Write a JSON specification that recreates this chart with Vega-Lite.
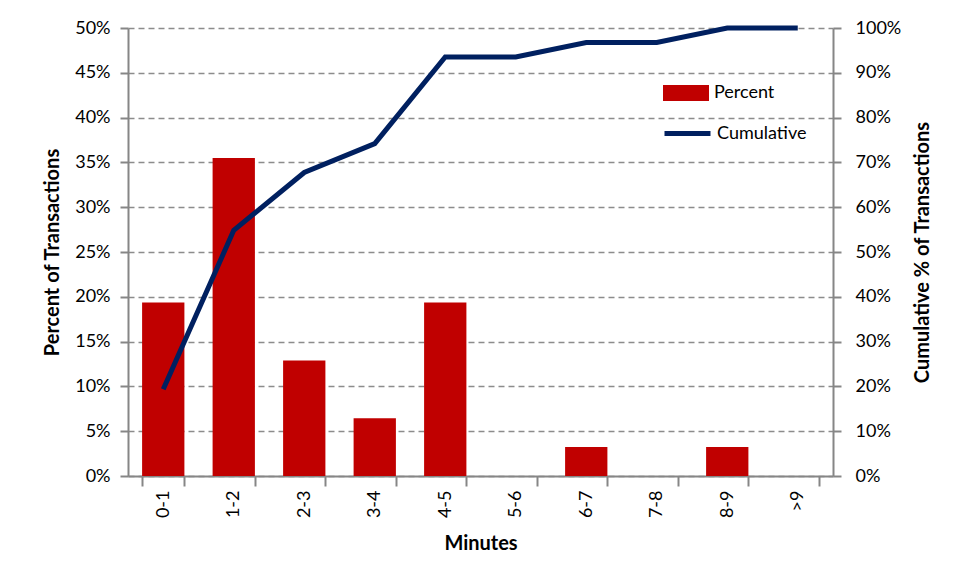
{
  "$schema": "https://vega.github.io/schema/vega-lite/v6.json",
  "width": 705,
  "height": 448,
  "autosize": "none",
  "padding": {"left": 128, "top": 28, "right": 121, "bottom": 103},
  "background": "white",
  "config": {
    "font": "Lato",
    "view": {"stroke": null},
    "axis": {
      "labelFont": "Lato", "titleFont": "Lato",
      "labelFontSize": 18, "titleFontSize": 20, "titleFontWeight": "bold",
      "labelColor": "#000", "titleColor": "#000", "labelOverlap": false,
      "domainColor": "#868686", "tickColor": "#868686", "domainWidth": 2, "tickWidth": 2
    }
  },
  "data": {"values": [
    {"bin": "0-1", "pct": 0.1935, "cum": 0.1935},
    {"bin": "1-2", "pct": 0.3548, "cum": 0.5484},
    {"bin": "2-3", "pct": 0.1290, "cum": 0.6774},
    {"bin": "3-4", "pct": 0.0645, "cum": 0.7419},
    {"bin": "4-5", "pct": 0.1935, "cum": 0.9355},
    {"bin": "5-6", "pct": 0.0, "cum": 0.9355},
    {"bin": "6-7", "pct": 0.0323, "cum": 0.9677},
    {"bin": "7-8", "pct": 0.0, "cum": 0.9677},
    {"bin": "8-9", "pct": 0.0323, "cum": 1.0},
    {"bin": ">9", "pct": 0.0, "cum": 1.0}
  ]},
  "encoding": {
    "x": {
      "field": "bin", "type": "nominal", "sort": null,
      "scale": {"paddingInner": 0.4, "paddingOuter": 0.2},
      "axis": {"title": "Minutes", "labelAngle": -90, "labelAlign": "right", "labelBaseline": "middle", "labelPadding": 4, "tickBand": "extent", "tickSize": 10, "titlePadding": 16}
    }
  },
  "layer": [
    {
      "mark": {"type": "bar", "color": "#C00000"},
      "encoding": {
        "y": {"field": "pct", "type": "quantitative",
          "scale": {"domain": [0, 0.5]},
          "axis": {"title": "Percent of Transactions", "format": ".0%", "values": [0,0.05,0.1,0.15,0.2,0.25,0.3,0.35,0.4,0.45,0.5], "grid": true, "gridDash": [6, 4], "gridColor": "#8c8c8c", "gridWidth": 1.5, "tickSize": 8, "labelPadding": 10, "titlePadding": 12}},
        "fill": {"datum": "Percent", "type": "nominal",
          "scale": {"domain": ["Percent"], "range": ["#C00000"]},
          "legend": {"title": null, "orient": "none", "legendX": 534, "legendY": 41, "symbolType": "M-1,-0.35L1,-0.35L1,0.35L-1,0.35Z", "symbolSize": 2116, "labelFontSize": 18, "labelFont": "Lato", "labelColor": "#000", "labelOffset": 4}}
      }
    },
    {
      "mark": {"type": "line", "color": "#002060", "strokeWidth": 5},
      "encoding": {
        "y": {"field": "cum", "type": "quantitative",
          "scale": {"domain": [0, 1]},
          "axis": {"title": "Cumulative % of Transactions", "orient": "right", "format": ".0%", "values": [0,0.1,0.2,0.3,0.4,0.5,0.6,0.7,0.8,0.9,1], "grid": false, "tickSize": 8, "labelPadding": 14, "titleAngle": 270, "titlePadding": 32}},
        "stroke": {"datum": "Cumulative", "type": "nominal",
          "scale": {"domain": ["Cumulative"], "range": ["#002060"]},
          "legend": {"title": null, "orient": "none", "legendX": 534, "legendY": 80, "symbolType": "stroke", "symbolStrokeWidth": 5, "symbolSize": 2116, "labelFontSize": 18, "labelFont": "Lato", "labelColor": "#000", "labelOffset": 4}}
      }
    }
  ],
  "resolve": {"scale": {"y": "independent", "fill": "independent", "stroke": "independent"}}
}
